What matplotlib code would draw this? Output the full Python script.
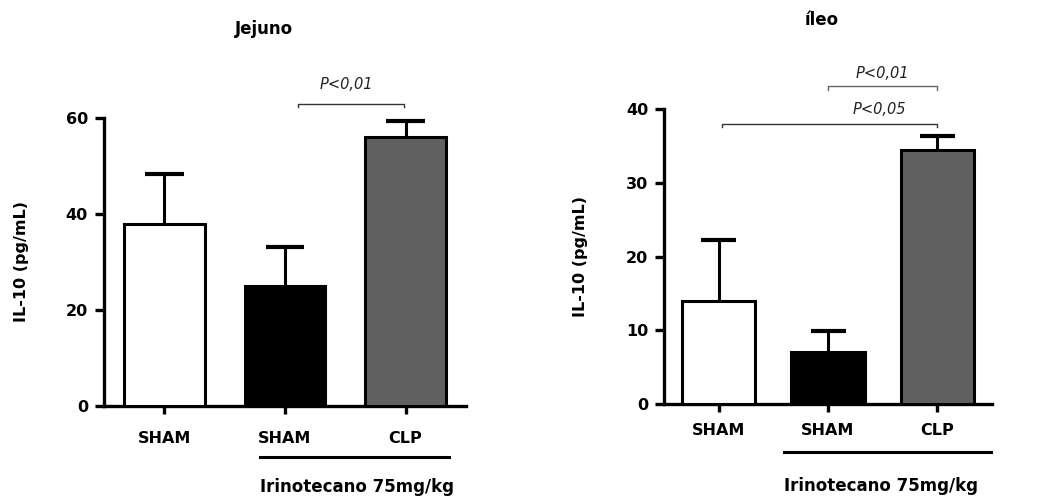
import matplotlib
matplotlib.use("Agg")
import matplotlib.pyplot as plt
from matplotlib.transforms import blended_transform_factory

plt.rcParams['font.family'] = ['DejaVu Sans']

categories = ["SHAM", "SHAM", "CLP"]
jejuno_mean = [38, 25, 56]
jejuno_err = [10.3, 8.1, 3.3]
ileo_mean = [14, 7, 34.5]
ileo_err = [8.2, 2.9, 1.8]
bar_colors = ["white", "black", "#606060"]
group_label = "Irinotecano 75mg/kg"
ylabel = "IL-10 (pg/mL)"

fig = plt.figure(figsize=(10.4, 4.98), dpi=100)
axL = fig.add_axes([0.1, 0.1847, 0.348, 0.5783])
axR = fig.add_axes([0.6385, 0.1888, 0.3154, 0.592])


def draw(ax, means, errs, ylim, yticks, xpad):
    x = list(range(len(means)))
    tops = [m + e for m, e in zip(means, errs)]
    ax.vlines(x, means, tops, color="black", lw=2.2, zorder=2)
    ax.hlines(tops, [xi - 0.16 for xi in x], [xi + 0.16 for xi in x], color="black", lw=3.0, zorder=2)
    ax.bar(x, means, width=0.67, color=bar_colors, edgecolor="black", linewidth=2.2, zorder=3)
    ax.set_xlim(-0.5, 2.5)
    ax.set_ylim(*ylim)
    ax.set_yticks(yticks)
    ax.set_xticks(x)
    ax.set_xticklabels(categories, fontsize=11.5, fontweight="bold")
    for lab in ax.get_yticklabels():
        lab.set_fontweight("bold")
        lab.set_fontsize(11.5)
    for s in ["top", "right"]:
        ax.spines[s].set_visible(False)
    for s in ["left", "bottom"]:
        ax.spines[s].set_linewidth(2.4)
    ax.tick_params(axis="y", length=6.5, width=2.4, pad=5)
    ax.tick_params(axis="x", length=6, width=2.4, pad=xpad)


draw(axL, jejuno_mean, jejuno_err, (0, 60), [0, 20, 40, 60], 12)
draw(axR, ileo_mean, ileo_err, (0, 40), [0, 10, 20, 30, 40], 8)


def bracket(ax, x0, x1, y, dy, text, ty, tx, color):
    ax.plot([x0, x0, x1, x1], [y - dy, y, y, y - dy], color=color, lw=1.0, clip_on=False)
    ax.text(tx, ty, text, ha="center", va="center", fontsize=10.5, style="italic",
            color="#222222", clip_on=False)


bracket(axL, 1.11, 1.99, 62.9, 0.7, "P<0,01", 66.9, 1.51, "#333333")
bracket(axR, 1.0, 2.0, 43.1, 0.45, "P<0,01", 44.9, 1.5, "#666666")
bracket(axR, 0.03, 2.0, 38.0, 0.45, "P<0,05", 39.9, 1.47, "#333333")

for ax, x0, x1, yl, yt in [(axL, 0.795, 2.36, -0.177, -0.281), (axR, 0.594, 2.49, -0.163, -0.278)]:
    tr = blended_transform_factory(ax.transData, ax.transAxes)
    ax.plot([x0, x1], [yl, yl], color="black", lw=2.2, transform=tr, clip_on=False)
    ax.text(x0, yt, group_label, transform=tr, ha="left", va="center",
            fontsize=12, fontweight="bold", clip_on=False)

fig.text(0.254, 0.942, "Jejuno", ha="center", va="center", fontsize=12, fontweight="bold")
fig.text(0.790, 0.960, "íleo", ha="center", va="center", fontsize=12, fontweight="bold")
fig.text(0.021, 0.474, ylabel, rotation=90, ha="center", va="center", fontsize=11.5, fontweight="bold")
fig.text(0.558, 0.484, ylabel, rotation=90, ha="center", va="center", fontsize=11.5, fontweight="bold")

fig.savefig("out.png", dpi=100)
